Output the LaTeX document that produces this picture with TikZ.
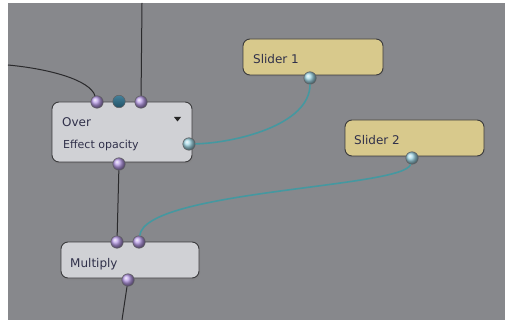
\documentclass[tikz,border=0pt]{standalone}
\usepackage{fontspec}
\setmainfont{DejaVu Sans}
\usetikzlibrary{shadows}
\definecolor{bg}{HTML}{87888C}
\definecolor{opfill}{HTML}{D0D1D5}
\definecolor{slfill}{HTML}{D8C98C}
\definecolor{edge}{HTML}{3A3A3C}
\definecolor{txt}{HTML}{30304A}
\definecolor{ppurple}{HTML}{B99DE8}
\definecolor{pteal}{HTML}{2F7390}
\definecolor{pcyan}{HTML}{A2D8E6}
\definecolor{wteal}{HTML}{4598A0}
\definecolor{wblack}{HTML}{2A2A2C}
\begin{document}
\begin{tikzpicture}[x=1pt,y=-1pt,
  opbox/.style={draw=edge, line width=0.9pt, fill=opfill, rounded corners=7pt, inner sep=0pt,
    drop shadow={opacity=0.25, shadow xshift=1pt, shadow yshift=-2pt}},
  slbox/.style={draw=edge, line width=0.9pt, fill=slfill, rounded corners=7pt, inner sep=0pt,
    drop shadow={opacity=0.25, shadow xshift=1pt, shadow yshift=-2pt}},
  port/.style={circle, inner sep=0pt, minimum size=12.5pt, draw=edge!80, line width=0.5pt},
  lbl/.style={anchor=base west, inner sep=0pt, text=txt, font=\fontsize{12}{14}\selectfont},
  wire/.style={draw=wblack, line width=1pt},
  twire/.style={draw=wteal, line width=1.6pt}]
\useasboundingbox (0,0) rectangle (505,320);
\fill[white] (0,0) rectangle (505,320);
\fill[bg] (8,3) rectangle (505,320);

% boxes
\node[opbox, minimum width=140pt, minimum height=60pt] (over) at (122,132) {};
\node[slbox, minimum width=140pt, minimum height=36pt] (slider1) at (313,57) {};
\node[slbox, minimum width=139pt, minimum height=36pt] (slider2) at (414.5,138) {};
\node[opbox, minimum width=138pt, minimum height=36pt] (mult) at (130,260) {};

% labels
\node[lbl] (tover) at (62,127) {Over};
\node[lbl, font=\fontsize{11}{13}\selectfont] (teff) at (63,149) {Effect opacity};
\node[lbl] (ts1) at (253,64) {Slider 1};
\node[lbl] (ts2) at (354,145) {Slider 2};
\node[lbl] (tmul) at (70,267) {Multiply};
\fill[black!85] (174,117) -- (181,117) -- (177.5,121.5) -- cycle;

% ports
\node[port, ball color=ppurple] (overin1) at (97,102) {};
\node[port, shading=axis, top color=pteal!90, bottom color=pteal!70!black] (overin2) at (119,101.5) {};
\node[port, ball color=ppurple] (overin3) at (141,102) {};
\node[port, ball color=pcyan] (overout) at (189,144) {};
\node[port, ball color=ppurple] (overbot) at (119,164) {};
\node[port, ball color=pcyan] (s1out) at (310,78) {};
\node[port, ball color=pcyan] (s2out) at (412,158) {};
\node[port, ball color=ppurple] (multin1) at (117,242) {};
\node[port, ball color=ppurple] (multin2) at (139,242) {};
\node[port, ball color=ppurple] (multbot) at (128,280) {};

% free ends
\coordinate (leftend) at (8,65);
\coordinate (topend) at (142,3);
\coordinate (botend) at (122,320);

% wires
\draw[wire] (leftend) .. controls (50,69) and (90,80) .. (overin1);
\draw[wire] (overin3) -- (topend);
\draw[wire] (overbot) -- (multin1);
\draw[wire] (multbot) -- (botend);
\draw[twire] (s1out) .. controls (310,125) and (235,143) .. (overout);
\draw[twire] (s2out) .. controls (405,188) and (145,190) .. (multin2);
\end{tikzpicture}
\end{document}
